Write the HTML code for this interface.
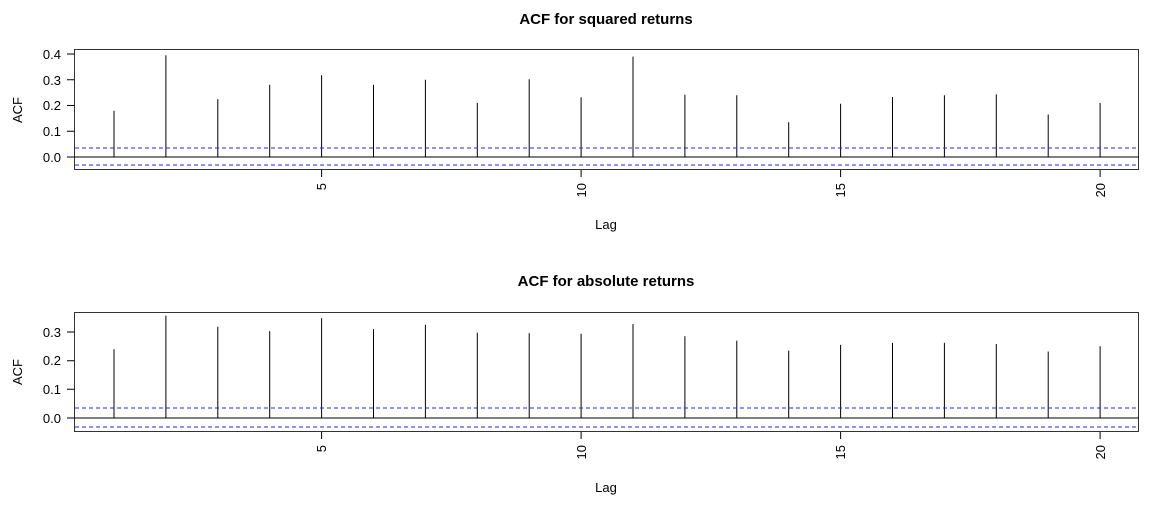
<!DOCTYPE html>
<html><head><meta charset="utf-8"><style>body{margin:0;background:#fff}svg{display:block}text{font-family:"Liberation Sans",Arial,sans-serif;fill:#000}</style></head><body>
<svg width="1151" height="505" xmlns="http://www.w3.org/2000/svg">
<g stroke="#000" stroke-width="1" fill="none">
<rect x="74.5" y="49.5" width="1064" height="120" stroke="#333"/>
<line x1="74" y1="157" x2="1139" y2="157"/>
<path d="M114 157V110.7M165.9 157V55.3M217.8 157V99.1M269.7 157V84.9M321.6 157V75.1M373.5 157V84.9M425.4 157V79.8M477.3 157V102.9M529.2 157V79.2M581.1 157V97.3M633 157V56.6M684.9 157V94.7M736.8 157V95.2M788.7 157V122.2M840.6 157V103.7M892.5 157V97M944.4 157V95.2M996.3 157V94.4M1048.2 157V114.5M1100.1 157V102.9"/>
<path d="M67 54H74.5M67 79.75H74.5M67 105.5H74.5M67 131.25H74.5M67 157H74.5"/>
<path d="M321.6 170V177M581.1 170V177M840.6 170V177M1100.1 170V177"/>
<line x1="75" y1="148" x2="1138" y2="148" stroke="#2222ff" stroke-dasharray="4,3"/>
<line x1="75" y1="165" x2="1138" y2="165" stroke="#2222ff" stroke-dasharray="4,3"/>
<rect x="74.5" y="312.5" width="1064" height="119" stroke="#333"/>
<line x1="74" y1="418" x2="1139" y2="418"/>
<path d="M114 418V349.2M165.9 418V315.6M217.8 418V326.8M269.7 418V331.1M321.6 418V318.2M373.5 418V329.1M425.4 418V324.8M477.3 418V332.6M529.2 418V333.1M581.1 418V333.7M633 418V324M684.9 418V336.3M736.8 418V340.6M788.7 418V350.6M840.6 418V344.9M892.5 418V342.9M944.4 418V342.9M996.3 418V344M1048.2 418V351.5M1100.1 418V346.3"/>
<path d="M67 332H74.5M67 360.7H74.5M67 389.3H74.5M67 418H74.5"/>
<path d="M321.6 432V439M581.1 432V439M840.6 432V439M1100.1 432V439"/>
<line x1="75" y1="408" x2="1138" y2="408" stroke="#2222ff" stroke-dasharray="4,3"/>
<line x1="75" y1="427" x2="1138" y2="427" stroke="#2222ff" stroke-dasharray="4,3"/>
</g>
<g font-size="13">
<text x="606" y="24" text-anchor="middle" font-weight="bold" font-size="15">ACF for squared returns</text>
<text x="606" y="286" text-anchor="middle" font-weight="bold" font-size="15">ACF for absolute returns</text>
<text x="606" y="229" text-anchor="middle">Lag</text>
<text x="606" y="492" text-anchor="middle">Lag</text>
<text transform="translate(22,110) rotate(-90)" text-anchor="middle">ACF</text>
<text transform="translate(22,372) rotate(-90)" text-anchor="middle">ACF</text>
<g text-anchor="end">
<text x="61" y="59">0.4</text><text x="61" y="85">0.3</text><text x="61" y="110">0.2</text><text x="61" y="136">0.1</text><text x="61" y="162">0.0</text>
<text x="61" y="337">0.3</text><text x="61" y="365">0.2</text><text x="61" y="394">0.1</text><text x="61" y="423">0.0</text>
<text transform="translate(326,183) rotate(-90)">5</text>
<text transform="translate(586,183) rotate(-90)">10</text>
<text transform="translate(845,183) rotate(-90)">15</text>
<text transform="translate(1105,183) rotate(-90)">20</text>
<text transform="translate(326,445) rotate(-90)">5</text>
<text transform="translate(586,445) rotate(-90)">10</text>
<text transform="translate(845,445) rotate(-90)">15</text>
<text transform="translate(1105,445) rotate(-90)">20</text>
</g>
</g>
</svg>
</body></html>
